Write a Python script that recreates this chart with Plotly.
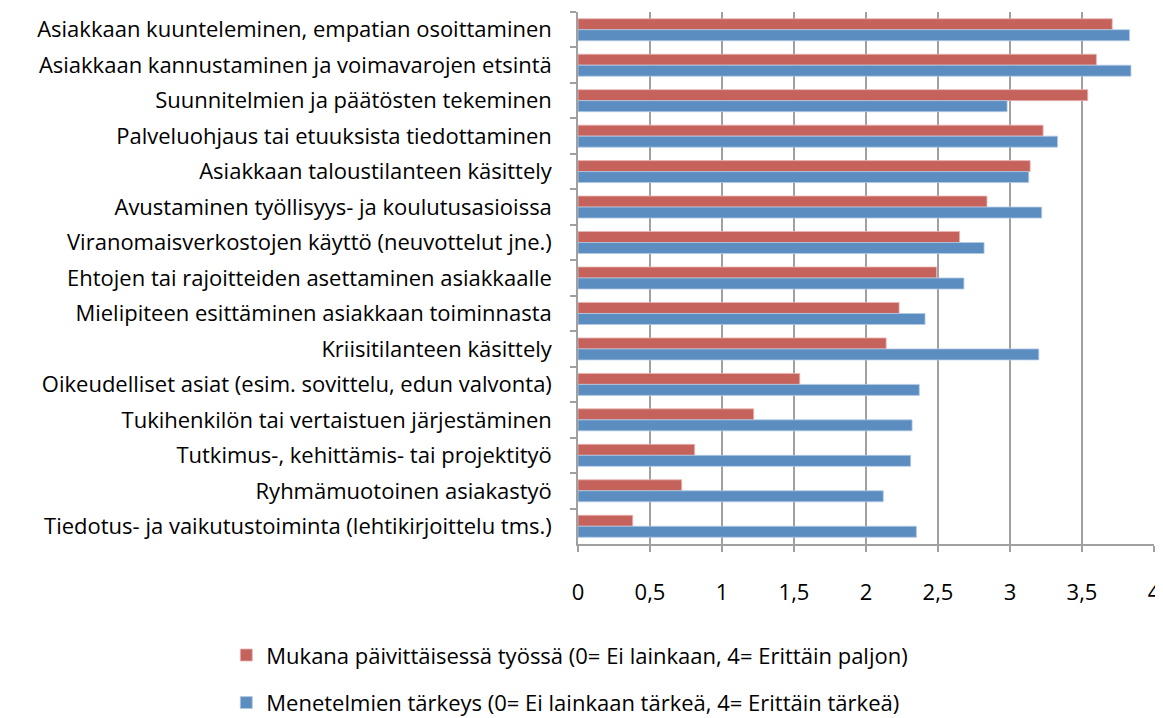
import plotly.graph_objects as go

categories = [
    "Asiakkaan kuunteleminen, empatian osoittaminen",
    "Asiakkaan kannustaminen ja voimavarojen etsintä",
    "Suunnitelmien ja päätösten tekeminen",
    "Palveluohjaus tai etuuksista tiedottaminen",
    "Asiakkaan taloustilanteen käsittely",
    "Avustaminen työllisyys- ja koulutusasioissa",
    "Viranomaisverkostojen käyttö (neuvottelut jne.)",
    "Ehtojen tai rajoitteiden asettaminen asiakkaalle",
    "Mielipiteen esittäminen asiakkaan toiminnasta",
    "Kriisitilanteen käsittely",
    "Oikeudelliset asiat (esim. sovittelu, edun valvonta)",
    "Tukihenkilön tai vertaistuen järjestäminen",
    "Tutkimus-, kehittämis- tai projektityö",
    "Ryhmämuotoinen asiakastyö",
    "Tiedotus- ja vaikutustoiminta (lehtikirjoittelu tms.)",
]
daily_work = [3.71, 3.60, 3.54, 3.23, 3.14, 2.84, 2.65, 2.49, 2.23, 2.14,
              1.54, 1.22, 0.81, 0.72, 0.38]
importance = [3.83, 3.84, 2.98, 3.33, 3.13, 3.22, 2.82, 2.68, 2.41, 3.20,
              2.37, 2.32, 2.31, 2.12, 2.35]

series_names = [
    "Mukana päivittäisessä työssä (0= Ei lainkaan, 4= Erittäin paljon)",
    "Menetelmien tärkeys (0= Ei lainkaan tärkeä, 4= Erittäin tärkeä)",
]

# page body has an 8px margin, so the figure is 8px smaller than the window
fig = go.Figure()
fig.add_trace(go.Bar(
    y=categories, x=daily_work, orientation="h", name=series_names[0],
    marker=dict(color="#C6625C", line=dict(color="#E8B5B2", width=0.8)),
    legendgroup="a",
))
fig.add_trace(go.Bar(
    y=categories, x=importance, orientation="h", name=series_names[1],
    marker=dict(color="#5B8DC0", line=dict(color="#B3C9E3", width=0.8)),
    legendgroup="b",
))

fig.update_layout(
    width=1155, height=710,
    margin=dict(l=570, r=9, t=4, b=174, autoexpand=False),
    paper_bgcolor="white", plot_bgcolor="white",
    font=dict(family="Open Sans, sans-serif", size=22, color="black"),
    separators=", ",
    barmode="group",
    bargap=0.38,
    bargroupgap=0.0,
    showlegend=True,
    legend=dict(
        xref="container", yref="container",
        x=0.189, y=0.118, xanchor="left", yanchor="top",
        orientation="v", traceorder="grouped", tracegroupgap=16,
        font=dict(size=22), itemwidth=30,
    ),
)
fig.update_xaxes(
    range=[0, 4], dtick=0.5, tick0=0,
    showgrid=True, gridcolor="#A0A0A0", gridwidth=1.5,
    showline=True, linecolor="#A0A0A0", linewidth=1.5,
    ticks="outside", ticklen=6, tickcolor="#A0A0A0", tickwidth=1.5,
    zeroline=False, automargin=False, ticklabelstandoff=22,
    ticklabeloverflow="allow",
)
fig.update_yaxes(
    autorange="reversed", showgrid=False,
    showline=True, linecolor="#A0A0A0", linewidth=1.5,
    ticks="outside", ticklen=6, tickcolor="#A0A0A0", tickwidth=1.5,
    tickson="boundaries", automargin=False, ticklabelstandoff=20,
)

fig.write_html("out.html")
